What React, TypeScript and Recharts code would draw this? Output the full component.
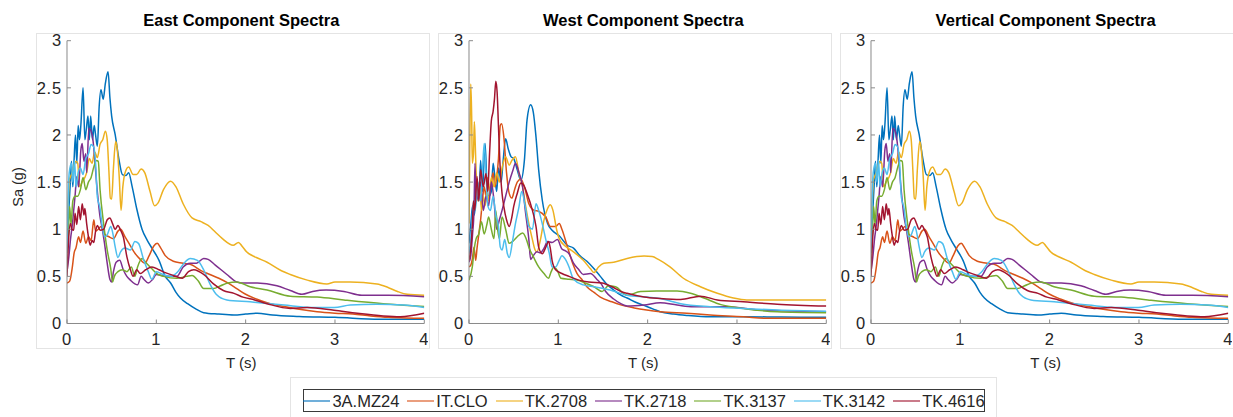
import React from 'react';
import { LineChart, Line, XAxis, YAxis } from 'recharts';

// ---------- DATA ----------
const seriesNames = ['3A.MZ24', 'IT.CLO', 'TK.2708', 'TK.2718', 'TK.3137', 'TK.3142', 'TK.4616'];
const seriesColors = ['#0072BD', '#D95319', '#EDB120', '#7E2F8E', '#77AC30', '#4DBEEE', '#A2142F'];
const xTicks = [0, 1, 2, 3, 4];
const yTicks = [0, 0.5, 1, 1.5, 2, 2.5, 3];
const panelTitles = ['East Component Spectra', 'West Component Spectra', 'Vertical Component Spectra'];

type Pt = [number, number];

// East component: [T (s), Sa (g)]
const eastMZ24: Pt[] = [[0,0.85],[0.02,1.2],[0.04,1.55],[0.05,1.72],[0.065,1.45],[0.08,1.75],[0.095,2.0],[0.11,1.7],[0.125,2.1],[0.14,1.95],[0.155,2.1],[0.18,2.5],[0.2,1.95],[0.215,2.05],[0.235,2.2],[0.25,1.95],[0.265,2.2],[0.285,1.95],[0.305,2.1],[0.32,2.0],[0.34,1.88],[0.36,2.3],[0.38,2.48],[0.405,2.38],[0.43,2.55],[0.46,2.67],[0.48,2.4],[0.5,2.2],[0.54,2.0],[0.58,1.75],[0.62,1.58],[0.66,1.57],[0.69,1.6],[0.73,1.45],[0.78,1.22],[0.84,1.0],[0.9,0.88],[0.95,0.8],[1.03,0.67],[1.1,0.5],[1.16,0.43],[1.22,0.33],[1.27,0.27],[1.35,0.21],[1.45,0.15],[1.53,0.115],[1.7,0.1],[1.87,0.09],[2.0,0.1],[2.13,0.11],[2.3,0.09],[2.6,0.075],[3.0,0.065],[3.5,0.045],[4.0,0.044]];
const eastCLO: Pt[] = [[0,0.43],[0.03,0.45],[0.06,0.6],[0.08,0.75],[0.1,0.8],[0.13,0.92],[0.15,0.86],[0.18,0.98],[0.21,0.85],[0.24,0.92],[0.27,0.88],[0.3,1.1],[0.32,0.98],[0.35,1.0],[0.38,1.03],[0.42,0.95],[0.47,0.92],[0.52,0.9],[0.57,0.98],[0.6,1.0],[0.65,0.92],[0.7,0.84],[0.75,0.76],[0.82,0.68],[0.87,0.64],[0.92,0.72],[0.97,0.82],[1.01,0.85],[1.05,0.8],[1.1,0.72],[1.19,0.66],[1.3,0.64],[1.4,0.62],[1.5,0.56],[1.6,0.52],[1.7,0.48],[1.8,0.43],[1.9,0.37],[2.0,0.31],[2.12,0.26],[2.24,0.22],[2.43,0.18],[2.6,0.15],[2.8,0.125],[3.0,0.11],[3.2,0.1],[3.4,0.08],[3.6,0.065],[3.8,0.058],[4.0,0.055]];
const east2708: Pt[] = [[0,1.0],[0.015,1.3],[0.026,1.52],[0.05,1.58],[0.08,1.68],[0.1,1.72],[0.12,1.7],[0.14,1.45],[0.17,1.5],[0.2,1.55],[0.22,1.6],[0.25,1.75],[0.28,1.7],[0.31,1.82],[0.34,1.76],[0.37,1.9],[0.4,1.95],[0.43,2.04],[0.45,1.95],[0.47,1.6],[0.485,1.33],[0.5,1.32],[0.52,1.65],[0.545,1.93],[0.56,1.87],[0.585,1.55],[0.605,1.2],[0.625,1.45],[0.65,1.6],[0.69,1.66],[0.74,1.58],[0.78,1.58],[0.83,1.64],[0.87,1.6],[0.93,1.4],[0.98,1.25],[1.02,1.28],[1.08,1.42],[1.16,1.51],[1.22,1.45],[1.3,1.27],[1.4,1.12],[1.5,1.08],[1.58,1.04],[1.66,0.97],[1.74,0.9],[1.86,0.83],[1.92,0.86],[1.96,0.82],[2.01,0.76],[2.12,0.7],[2.24,0.65],[2.4,0.56],[2.5,0.52],[2.69,0.46],[2.91,0.42],[3.0,0.44],[3.17,0.44],[3.47,0.42],[3.6,0.38],[3.7,0.34],[3.81,0.31],[4.0,0.3]];
const east2718: Pt[] = [[0,0.55],[0.02,0.7],[0.04,0.9],[0.06,1.05],[0.075,1.2],[0.09,1.35],[0.11,1.56],[0.13,1.45],[0.155,1.84],[0.17,1.91],[0.19,1.72],[0.21,1.8],[0.22,1.6],[0.245,2.07],[0.27,2.04],[0.29,1.95],[0.31,1.75],[0.33,1.5],[0.35,1.3],[0.37,1.13],[0.39,1.03],[0.42,0.85],[0.45,0.64],[0.48,0.47],[0.5,0.44],[0.52,0.55],[0.55,0.65],[0.59,0.67],[0.63,0.57],[0.67,0.5],[0.71,0.46],[0.76,0.42],[0.79,0.41],[0.83,0.5],[0.86,0.47],[0.91,0.43],[0.96,0.47],[1.0,0.52],[1.06,0.51],[1.15,0.5],[1.23,0.5],[1.3,0.6],[1.38,0.64],[1.45,0.64],[1.53,0.69],[1.58,0.68],[1.66,0.62],[1.79,0.52],[1.9,0.44],[1.96,0.43],[2.13,0.43],[2.35,0.4],[2.5,0.35],[2.63,0.31],[2.75,0.34],[2.9,0.355],[3.1,0.34],[3.3,0.3],[3.6,0.3],[4.0,0.285]];
const east3137: Pt[] = [[0,0.75],[0.015,0.95],[0.03,1.24],[0.045,1.05],[0.065,1.3],[0.09,1.35],[0.12,1.35],[0.15,1.42],[0.18,1.55],[0.21,1.42],[0.24,1.5],[0.27,1.55],[0.3,1.66],[0.33,1.73],[0.35,1.72],[0.37,1.42],[0.41,1.06],[0.45,0.78],[0.49,0.58],[0.51,0.44],[0.53,0.5],[0.57,0.55],[0.62,0.57],[0.67,0.55],[0.72,0.6],[0.76,0.5],[0.79,0.6],[0.84,0.69],[0.88,0.65],[0.95,0.58],[1.02,0.52],[1.08,0.5],[1.23,0.48],[1.34,0.5],[1.4,0.51],[1.47,0.45],[1.53,0.37],[1.64,0.37],[1.72,0.4],[1.8,0.43],[1.9,0.44],[2.05,0.39],[2.24,0.355],[2.5,0.29],[2.8,0.28],[3.1,0.25],[3.54,0.21],[4.0,0.18]];
const east3142: Pt[] = [[0,0.75],[0.015,1.4],[0.025,1.6],[0.05,1.7],[0.065,1.5],[0.085,1.73],[0.1,1.45],[0.125,1.6],[0.15,1.65],[0.18,1.58],[0.21,1.75],[0.24,1.8],[0.27,1.9],[0.3,1.87],[0.32,1.7],[0.34,1.34],[0.37,1.22],[0.39,1.06],[0.42,0.92],[0.45,0.94],[0.49,1.03],[0.51,0.97],[0.54,0.81],[0.57,0.7],[0.6,0.76],[0.65,0.8],[0.71,0.78],[0.76,0.87],[0.8,0.85],[0.86,0.67],[0.91,0.55],[0.95,0.47],[1.0,0.55],[1.05,0.53],[1.16,0.5],[1.24,0.55],[1.31,0.64],[1.38,0.69],[1.46,0.67],[1.53,0.57],[1.6,0.42],[1.67,0.31],[1.79,0.25],[2.05,0.23],[2.43,0.195],[2.72,0.17],[2.99,0.17],[3.17,0.195],[3.47,0.205],[3.77,0.195],[4.0,0.17]];
const east4616: Pt[] = [[0,0.5],[0.02,0.92],[0.04,1.06],[0.055,1.0],[0.075,0.99],[0.09,1.17],[0.11,1.05],[0.13,1.24],[0.15,1.1],[0.17,1.27],[0.19,1.15],[0.2,1.22],[0.22,1.06],[0.24,0.92],[0.26,0.83],[0.28,0.88],[0.3,0.86],[0.32,0.98],[0.34,1.04],[0.37,0.99],[0.41,1.0],[0.45,1.1],[0.48,1.12],[0.51,1.06],[0.54,1.0],[0.57,1.04],[0.6,0.99],[0.63,0.92],[0.67,0.71],[0.71,0.57],[0.74,0.5],[0.78,0.57],[0.82,0.53],[0.88,0.57],[0.95,0.6],[1.03,0.57],[1.1,0.54],[1.19,0.51],[1.29,0.48],[1.36,0.55],[1.42,0.57],[1.53,0.52],[1.64,0.42],[1.75,0.35],[1.87,0.32],[1.97,0.28],[2.1,0.25],[2.24,0.21],[2.5,0.16],[2.69,0.17],[2.99,0.14],[3.25,0.108],[3.54,0.08],[3.73,0.072],[4.0,0.108]];

// West component
const westMZ24: Pt[] = [[0,0.85],[0.02,1.05],[0.04,1.25],[0.06,1.15],[0.09,1.48],[0.11,1.3],[0.13,1.73],[0.15,1.4],[0.18,1.91],[0.2,1.5],[0.22,1.35],[0.25,1.4],[0.27,1.7],[0.29,1.55],[0.31,1.4],[0.33,1.65],[0.36,1.5],[0.38,1.7],[0.41,1.96],[0.44,1.85],[0.47,1.77],[0.5,1.75],[0.54,1.63],[0.58,1.52],[0.62,1.73],[0.65,2.16],[0.69,2.32],[0.72,2.24],[0.75,1.98],[0.78,1.63],[0.82,1.31],[0.88,1.06],[0.93,0.99],[1.01,0.93],[1.1,0.83],[1.17,0.8],[1.24,0.72],[1.32,0.66],[1.4,0.58],[1.47,0.5],[1.54,0.42],[1.62,0.355],[1.7,0.3],[1.77,0.27],[1.88,0.22],[1.99,0.18],[2.07,0.15],[2.14,0.125],[2.29,0.1],[2.45,0.085],[2.7,0.072],[3.07,0.072],[3.5,0.068],[4.0,0.065]];
const westCLO: Pt[] = [[0,0.6],[0.02,0.62],[0.04,0.7],[0.056,0.81],[0.075,0.67],[0.09,0.8],[0.11,0.95],[0.13,1.1],[0.15,1.3],[0.17,1.45],[0.19,1.35],[0.21,1.55],[0.23,1.4],[0.25,1.5],[0.27,1.6],[0.29,1.45],[0.31,1.55],[0.33,1.75],[0.35,2.1],[0.365,2.12],[0.39,1.98],[0.42,1.6],[0.45,1.38],[0.48,1.33],[0.51,1.42],[0.54,1.5],[0.58,1.53],[0.62,1.45],[0.67,1.27],[0.73,1.2],[0.78,1.19],[0.86,1.13],[0.91,1.03],[0.97,1.03],[1.01,1.06],[1.04,1.0],[1.1,0.82],[1.16,0.64],[1.21,0.53],[1.27,0.46],[1.32,0.39],[1.4,0.33],[1.47,0.28],[1.6,0.23],[1.69,0.2],[1.85,0.165],[1.99,0.143],[2.14,0.125],[2.44,0.108],[2.7,0.09],[3.07,0.072],[3.34,0.055],[4.0,0.055]];
const west2708: Pt[] = [[0,1.06],[0.01,2.0],[0.02,2.54],[0.03,2.2],[0.037,1.7],[0.05,1.8],[0.06,2.14],[0.07,1.9],[0.08,1.6],[0.1,1.3],[0.12,1.45],[0.14,1.2],[0.16,1.35],[0.18,1.25],[0.2,1.4],[0.22,1.3],[0.25,1.55],[0.28,1.45],[0.31,1.6],[0.34,1.5],[0.37,1.65],[0.41,1.77],[0.45,1.68],[0.48,1.73],[0.52,1.77],[0.56,1.59],[0.6,1.45],[0.63,1.27],[0.67,1.06],[0.71,0.89],[0.74,0.78],[0.76,0.76],[0.8,0.89],[0.84,1.1],[0.88,1.22],[0.91,1.26],[0.94,1.2],[0.98,1.0],[1.01,0.9],[1.08,0.82],[1.17,0.76],[1.28,0.67],[1.36,0.58],[1.4,0.54],[1.45,0.6],[1.51,0.64],[1.62,0.65],[1.77,0.69],[1.96,0.715],[2.05,0.71],[2.12,0.68],[2.25,0.6],[2.4,0.48],[2.59,0.39],[2.78,0.32],[2.96,0.27],[3.11,0.25],[3.45,0.25],[4.0,0.25]];
const west2718: Pt[] = [[0,0.65],[0.02,0.72],[0.04,0.95],[0.056,1.2],[0.067,1.7],[0.08,1.3],[0.1,1.35],[0.13,1.5],[0.16,1.2],[0.19,1.35],[0.22,1.25],[0.25,1.5],[0.28,1.3],[0.31,1.0],[0.34,1.1],[0.37,1.2],[0.41,1.35],[0.45,1.5],[0.49,1.62],[0.52,1.7],[0.56,1.6],[0.6,1.45],[0.63,1.2],[0.67,0.89],[0.69,0.68],[0.72,0.72],[0.76,0.76],[0.8,0.75],[0.84,0.8],[0.88,0.87],[0.93,0.86],[0.99,0.89],[1.04,0.79],[1.08,0.77],[1.12,0.74],[1.17,0.64],[1.23,0.57],[1.28,0.52],[1.36,0.53],[1.43,0.47],[1.48,0.42],[1.53,0.34],[1.62,0.26],[1.7,0.21],[1.77,0.185],[1.96,0.196],[2.14,0.22],[2.33,0.196],[2.51,0.178],[2.89,0.178],[3.26,0.143],[4.0,0.125]];
const west3137: Pt[] = [[0,0.46],[0.037,0.6],[0.06,0.8],[0.08,0.9],[0.11,0.95],[0.14,1.08],[0.17,0.95],[0.2,1.05],[0.22,1.13],[0.25,1.0],[0.28,0.9],[0.3,1.2],[0.32,1.0],[0.34,0.9],[0.37,1.13],[0.41,1.0],[0.45,0.85],[0.5,0.88],[0.54,0.92],[0.6,0.96],[0.64,0.9],[0.67,0.81],[0.73,0.69],[0.78,0.6],[0.84,0.53],[0.89,0.48],[0.92,0.55],[0.95,0.6],[0.99,0.56],[1.03,0.48],[1.12,0.47],[1.21,0.46],[1.3,0.43],[1.4,0.39],[1.49,0.34],[1.56,0.4],[1.64,0.39],[1.77,0.3],[1.92,0.34],[2.1,0.345],[2.33,0.345],[2.48,0.32],[2.63,0.27],[2.82,0.2],[3.07,0.16],[3.45,0.125],[4.0,0.115]];
const west3142: Pt[] = [[0,0.74],[0.03,1.0],[0.05,1.3],[0.07,1.2],[0.1,1.5],[0.13,1.3],[0.15,1.6],[0.17,1.91],[0.19,1.6],[0.21,1.25],[0.24,1.2],[0.27,1.35],[0.3,1.15],[0.33,1.03],[0.35,0.81],[0.37,0.78],[0.4,0.89],[0.43,0.74],[0.45,0.7],[0.49,0.89],[0.52,1.06],[0.56,1.24],[0.59,1.4],[0.63,1.24],[0.67,1.03],[0.71,1.0],[0.75,1.27],[0.78,1.2],[0.82,1.06],[0.86,0.89],[0.9,0.74],[0.93,0.6],[0.97,0.6],[1.01,0.67],[1.04,0.72],[1.08,0.68],[1.12,0.6],[1.17,0.47],[1.28,0.41],[1.4,0.39],[1.58,0.355],[1.77,0.3],[1.99,0.28],[2.14,0.265],[2.37,0.21],[2.7,0.178],[3.07,0.16],[3.45,0.143],[4.0,0.13]];
const west4616: Pt[] = [[0,0.67],[0.02,0.8],[0.037,1.03],[0.05,1.3],[0.065,1.2],[0.09,1.56],[0.11,1.3],[0.13,1.63],[0.16,1.45],[0.19,1.59],[0.21,1.4],[0.23,1.8],[0.25,2.15],[0.27,2.25],[0.285,2.38],[0.3,2.57],[0.315,2.45],[0.33,2.09],[0.345,1.73],[0.37,1.38],[0.39,1.24],[0.42,1.1],[0.45,1.03],[0.48,1.13],[0.5,1.24],[0.54,1.38],[0.58,1.49],[0.61,1.47],[0.65,1.38],[0.71,1.2],[0.75,1.03],[0.78,0.81],[0.82,0.74],[0.86,0.81],[0.89,0.87],[0.91,0.8],[0.93,0.67],[0.97,0.57],[1.04,0.53],[1.12,0.5],[1.23,0.46],[1.34,0.44],[1.49,0.43],[1.6,0.39],[1.7,0.34],[1.77,0.32],[1.96,0.28],[2.14,0.265],[2.37,0.255],[2.59,0.29],[2.78,0.25],[3.07,0.23],[3.45,0.205],[4.0,0.185]];

const eastSeries = [eastMZ24, eastCLO, east2708, east2718, east3137, east3142, east4616];
const westSeries = [westMZ24, westCLO, west2708, west2718, west3137, west3142, west4616];
// The vertical component panel shows the same curves as the east panel
const verticalSeries = eastSeries;

// ---------- LAYOUT ----------
const FONT = '"Liberation Sans", Arial, Helvetica, sans-serif';
const PLOT_TOP = 40.7;
const PLOT_W = 357.3;
const PLOT_H = 282.8;
const Y_AXIS_W = 40;
const X_AXIS_H = 30;
const CHART_H = 360;
const RIGHT_M = 4;
const AXIS_COLOR = '#8a8a8a';
const TEXT_COLOR = '#262626';
const TICK_FONT = 16.5;

const XTick = (props: any) => {
  const { x, y, payload } = props;
  return (
    <g>
      <line x1={x} x2={x} y1={y} y2={y - 4} stroke={AXIS_COLOR} strokeWidth={1} />
      <text x={x} y={y + 21.5} textAnchor="middle" fontSize={TICK_FONT} fill={TEXT_COLOR} fontFamily={FONT} letterSpacing={0.8}>
        {payload.value}
      </text>
    </g>
  );
};

const YTick = (props: any) => {
  const { x, y, payload } = props;
  return (
    <g>
      <line x1={x} x2={x + 4} y1={y} y2={y} stroke={AXIS_COLOR} strokeWidth={1} />
      <text x={x - 5} y={y + 5.8} textAnchor="end" fontSize={TICK_FONT} fill={TEXT_COLOR} fontFamily={FONT} letterSpacing={0.8}>
        {payload.value}
      </text>
    </g>
  );
};

function Panel({ plotLeft, series, title, showYLabel }: { plotLeft: number; series: Pt[][]; title: string; showYLabel: boolean }) {
  const width = Y_AXIS_W + PLOT_W + RIGHT_M;
  const bottom = CHART_H - PLOT_TOP - PLOT_H - X_AXIS_H;
  const center = plotLeft + PLOT_W / 2 - 4;
  return (
    <>
      <div style={{ position: 'absolute', left: plotLeft - Y_AXIS_W, top: 0 }}>
        <LineChart width={width} height={CHART_H} margin={{ top: PLOT_TOP, right: RIGHT_M, left: 0, bottom }} style={{ overflow: 'visible' }}>
          <XAxis
            type="number"
            dataKey="t"
            domain={[0, 4]}
            ticks={xTicks}
            interval={0}
            height={X_AXIS_H}
            allowDataOverflow
            axisLine={{ stroke: AXIS_COLOR, strokeWidth: 1 }}
            tickLine={false}
            tickSize={0}
            tickMargin={0}
            tick={XTick}
          />
          <YAxis
            type="number"
            domain={[0, 3]}
            ticks={yTicks}
            interval={0}
            width={Y_AXIS_W}
            allowDataOverflow
            axisLine={{ stroke: AXIS_COLOR, strokeWidth: 1 }}
            tickLine={false}
            tickSize={0}
            tickMargin={0}
            tick={YTick}
          />
          {series.map((pts, i) => (
            <Line
              key={seriesNames[i]}
              name={seriesNames[i]}
              data={pts.map(([t, v]) => ({ t, v }))}
              dataKey="v"
              type="monotone"
              stroke={seriesColors[i]}
              strokeWidth={1.5}
              dot={false}
              activeDot={false}
              isAnimationActive={false}
            />
          ))}
        </LineChart>
      </div>
      <div style={{ position: 'absolute', left: center - 200, width: 400, top: 9, textAlign: 'center', fontFamily: FONT, fontWeight: 'bold', fontSize: 16.5, color: '#000', lineHeight: '22px' }}>
        {title}
      </div>
      <div style={{ position: 'absolute', left: center - 50, width: 100, top: 353, textAlign: 'center', fontFamily: FONT, fontSize: 15, color: TEXT_COLOR, lineHeight: '20px' }}>
        T (s)
      </div>
      {showYLabel && (
        <div style={{ position: 'absolute', left: 18 - 50, width: 100, top: 187 - 10, textAlign: 'center', fontFamily: FONT, fontSize: 14.5, color: TEXT_COLOR, lineHeight: '20px', transform: 'rotate(-90deg)' }}>
          Sa (g)
        </div>
      )}
    </>
  );
}

const panelLefts = [66.7, 468.7, 871];
const boxLefts = [36, 438, 840];

export default function App() {
  const panels = [eastSeries, westSeries, verticalSeries];
  return (
    <div style={{ position: 'absolute', left: 0, top: 0, width: 1233, height: 417, overflow: 'hidden', background: '#fff', fontFamily: FONT }}>
      {boxLefts.map((l, i) => (
        <div key={i} style={{ position: 'absolute', left: l, top: 33, width: 392, height: 314, border: '1px solid #e4e4e4' }} />
      ))}
      {panels.map((s, i) => (
        <Panel key={i} plotLeft={panelLefts[i]} series={s} title={panelTitles[i]} showYLabel={i === 0} />
      ))}
      <div style={{ position: 'absolute', left: 290, top: 377, width: 705, height: 50, border: '1px solid #e4e4e4' }} />
      <div style={{ position: 'absolute', left: 303, top: 389, width: 680, height: 21, border: '1px solid #3a3a3a', background: '#fff', display: 'flex', alignItems: 'center', justifyContent: 'center', gap: 8 }}>
        {seriesNames.map((n, i) => (
          <div key={n} style={{ display: 'flex', alignItems: 'center' }}>
            <svg width={27} height={4} style={{ display: 'block', marginRight: 2 }}>
              <line x1={0} x2={27} y1={2} y2={2} stroke={seriesColors[i]} strokeWidth={1.5} strokeOpacity={0.75} />
            </svg>
            <span style={{ fontSize: 16.5, color: TEXT_COLOR, lineHeight: '20px', whiteSpace: 'nowrap' }}>{n}</span>
          </div>
        ))}
      </div>
    </div>
  );
}
